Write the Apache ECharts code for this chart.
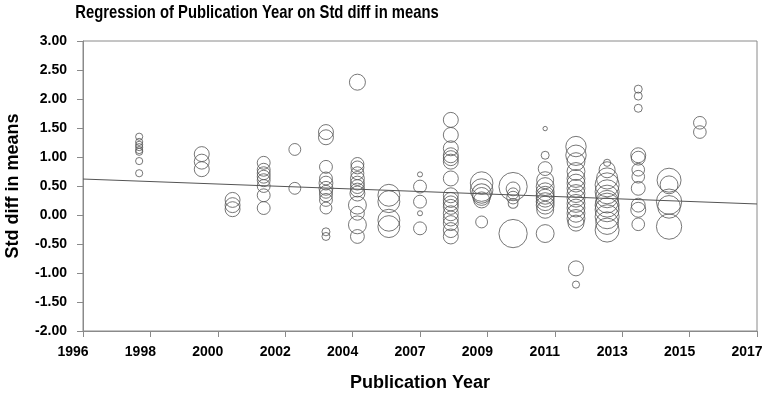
<!DOCTYPE html>
<html>
<head>
<meta charset="utf-8">
<script src="https://cdn.jsdelivr.net/npm/echarts@6/dist/echarts.min.js"></script>
<style>
  html, body { margin: 0; padding: 0; background: #fff; }
  #chart { width: 768px; height: 393px; }
</style>
</head>
<body>
<div id="chart"></div>
<script>
// one column of studies per publication year position
const colYears = [1997.75, 1999.7, 2000.66, 2001.63, 2002.6, 2003.57, 2004.55, 2005.53, 2006.5,
  2007.46, 2008.42, 2009.4, 2010.4, 2011.36, 2012.33, 2013.3, 2014.26, 2015.22];

const colValues = [
  [1.35, 1.26, 1.21, 1.17, 1.12, 1.09, 0.93, 0.72],
  [1.05, 0.92, 0.79],
  [0.26, 0.17, 0.10],
  [0.90, 0.78, 0.72, 0.66, 0.60, 0.50, 0.34, 0.12],
  [1.13, 0.46],
  [1.43, 1.34, 0.83, 0.63, 0.55, 0.46, 0.40, 0.34, 0.26, 0.12, -0.29, -0.37],
  [2.29, 0.88, 0.82, 0.72, 0.63, 0.55, 0.49, 0.43, 0.37, 0.17, 0.03, -0.17, -0.37],
  [0.34, 0.23, -0.09, -0.20],
  [0.70, 0.49, 0.23, 0.03, -0.23],
  [1.64, 1.38, 1.15, 1.03, 0.98, 0.92, 0.63, 0.34, 0.26, 0.20, 0.14, 0.03, -0.06, -0.14, -0.26, -0.37],
  [0.55, 0.43, 0.37, 0.32, 0.26, -0.12],
  [0.49, 0.45, 0.37, 0.30, 0.20, -0.32],
  [1.49, 1.03, 0.80, 0.60, 0.49, 0.40, 0.34, 0.29, 0.23, 0.17, 0.09, -0.32],
  [1.18, 1.03, 0.92, 0.75, 0.63, 0.55, 0.46, 0.37, 0.29, 0.20, 0.12, 0.03, -0.06, -0.14, -0.92, -1.20],
  [0.90, 0.78, 0.63, 0.52, 0.40, 0.32, 0.23, 0.17, 0.09, -0.03, -0.14, -0.26],
  [2.17, 2.05, 1.84, 1.03, 0.98, 0.78, 0.66, 0.46, 0.17, 0.09, -0.16],
  [0.60, 0.52, 0.23, 0.14, -0.20],
  [1.59, 1.43]
];

// relative study weights (bubble area)
const colWeights = [
  [0.8, 0.8, 0.8, 0.8, 0.8, 0.8, 0.8, 0.8],
  [3.5, 3.5, 3.5],
  [3.5, 3.5, 3.5],
  [2.6, 2.6, 2.6, 2.6, 2.6, 2.6, 2.6, 2.6],
  [2.2, 2.2],
  [3.5, 3.5, 2.6, 2.6, 3, 3, 2.6, 2.6, 2.6, 2.2, 1, 1],
  [4, 2.6, 2.6, 2.6, 3, 3, 3, 3, 3.5, 5, 3, 5, 3],
  [7.5, 7.5, 7.5, 7.5],
  [0.4, 2.6, 2.6, 0.4, 2.6],
  [3.5, 3.5, 3.5, 3.5, 3.5, 3.5, 3.5, 3.5, 3.5, 3.5, 3.5, 3.5, 3.5, 3.5, 3.5, 3.5],
  [8, 8, 6, 5, 4, 2.2],
  [12.5, 3, 2, 2.5, 1.5, 12.5],
  [0.3, 1, 3, 4.5, 5, 5, 5, 5, 5, 5, 4.5, 5],
  [6.5, 6.5, 5, 5, 5, 5, 5, 5, 5, 5, 5, 5, 5, 4, 3.5, 0.8],
  [0.8, 4, 7, 9, 9, 8, 8, 9, 9, 9, 8, 9],
  [1, 1, 1, 3.5, 3, 2.5, 2.5, 3, 3, 3.5, 2.5],
  [9, 5, 10, 8, 10],
  [2.5, 2.5]
];

// regression line end points
const regYears = [1996, 2017];
const regValues = [0.62, 0.19];

const yTicks = { min: -2, max: 3, step: 0.5 };
const xTicks = { min: 1996, max: 2017, step: 2.1 };

const points = [];
colYears.forEach((yr, i) => {
  colValues[i].forEach((v, j) => {
    points.push([yr, v, colWeights[i][j]]);
  });
});

const chart = echarts.init(document.getElementById("chart"), null, { renderer: "canvas" });

const axisGray = "#8a8a8a";
const font = "Liberation Sans, Arial, sans-serif";

const option = {
  backgroundColor: "#fff",
  animation: false,
  // title is drawn a bit condensed, like the original
  graphic: [
    {
      type: "text",
      x: 257,
      y: 3,
      scaleX: 0.8,
      style: {
        text: "Regression of Publication Year on Std diff in means",
        fontFamily: font,
        fontSize: 18.5,
        fontWeight: "bold",
        fill: "#000",
        textAlign: "center",
        textVerticalAlign: "top",
      },
    },
  ],
  grid: {
    left: 83,
    right: 11,
    top: 41,
    bottom: 62,
    outerBoundsMode: "none",
    show: true,
    borderColor: axisGray,
    borderWidth: 1,
  },
  xAxis: {
    type: "value",
    min: xTicks.min,
    max: xTicks.max,
    interval: xTicks.step,
    name: "Publication Year",
    nameLocation: "middle",
    nameGap: 43,
    nameTextStyle: { fontFamily: font, fontSize: 18, fontWeight: "bold", color: "#000" },
    axisLine: { onZero: false, lineStyle: { color: axisGray } },
    axisTick: { length: 6, lineStyle: { color: axisGray } },
    splitLine: { show: false },
    axisLabel: {
      margin: 14,
      fontFamily: font,
      fontSize: 14,
      fontWeight: "bold",
      color: "#000",
      padding: [0, 20, 0, 0],
      formatter: (v) => String(Math.round(v + 1e-6)),
    },
  },
  yAxis: {
    type: "value",
    min: yTicks.min,
    max: yTicks.max,
    interval: yTicks.step,
    name: "Std diff in means",
    nameLocation: "middle",
    nameGap: 61,
    nameTextStyle: { fontFamily: font, fontSize: 18, fontWeight: "bold", color: "#000" },
    axisLine: { show: true, onZero: false, lineStyle: { color: axisGray } },
    axisTick: { show: true, length: 6, lineStyle: { color: axisGray } },
    splitLine: { show: false },
    axisLabel: {
      margin: 16,
      fontFamily: font,
      fontSize: 14,
      fontWeight: "bold",
      color: "#000",
      formatter: (v) => v.toFixed(2),
    },
  },
  series: [
    {
      type: "scatter",
      data: points,
      symbol: "circle",
      symbolSize: (d) => 8 * Math.sqrt(d[2]),
      itemStyle: {
        color: "rgba(0,0,0,0)",
        borderColor: "#555",
        borderWidth: 1,
      },
      z: 2,
    },
    {
      type: "line",
      data: regYears.map((y, i) => [y, regValues[i]]),
      symbol: "none",
      lineStyle: { color: "#555", width: 1 },
      z: 3,
    },
  ],
};

chart.setOption(option);
</script>
</body>
</html>
